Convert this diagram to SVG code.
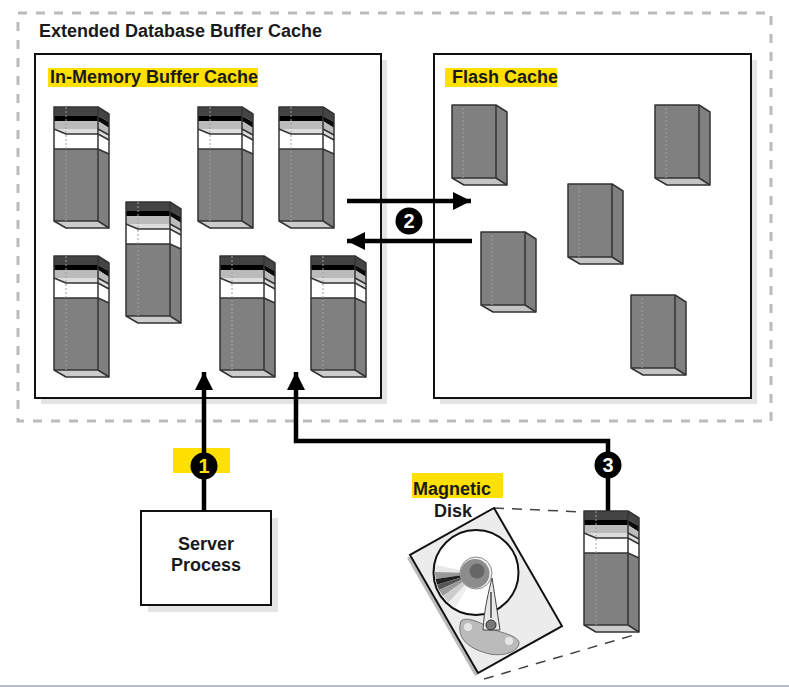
<svg xmlns="http://www.w3.org/2000/svg" width="789" height="687" viewBox="0 0 789 687">
<style>
text{font-family:"Liberation Sans",Arial,sans-serif;font-weight:bold;fill:#1a1a1a}
.lbl{font-size:18px}
.hl{fill:#ffe000}
.box{fill:#fff;stroke:#111;stroke-width:2}
.shadow{fill:#e4e4e4}
.num{font-size:20px;text-anchor:middle}
.conn{fill:none;stroke:#000;stroke-width:4.500}
.dash{fill:none;stroke:#444;stroke-width:1.500;stroke-dasharray:10 8}
.o{stroke:#333;stroke-width:1.500;stroke-linejoin:round;fill:none}
.dot{fill:none;stroke:#a0a0a0;stroke-width:1;stroke-dasharray:2 2}
</style>
<defs>
<marker id="ah" markerUnits="userSpaceOnUse" markerWidth="20" markerHeight="20" refX="18" refY="10" orient="auto">
<path d="M0 1L18 10L0 19Z" fill="#000"/>
</marker>
<g id="mem">
<path d="M44 0L55 7V121H12L0 114V0Z" fill="#fff"/>
<path d="M0 42H44L55 47V121H12L0 114Z" fill="#808080"/>
<path d="M0 114H44L55 121H12Z" fill="#ccc"/>
<path d="M0 0H44V9H0Z" fill="#444"/>
<path d="M44 0L55 7V15L44 9Z" fill="#444"/>
<path d="M0 9H44V14H0Z" fill="#000"/>
<path d="M44 9L55 15V21L44 14Z" fill="#0a0a0a"/>
<path d="M0 14H44V22H0Z" fill="#bbb"/>
<path d="M44 14L55 21V28L44 22Z" fill="#bbb"/>
<path d="M0 22H44V27H12Z" fill="#ddd"/>
<path d="M44 22L55 28V33L44 27Z" fill="#ddd"/>
<path class="o" d="M0 22L12 27H44L55 33M44 22L55 28"/>
<path class="o" d="M0 0H44L55 7V121H12L0 114Z"/>
<path class="o" d="M44 0V114M0 114H44L55 121"/>
<path class="o" d="M0 42H44L55 47"/>
<path class="dot" d="M12 0V114"/>
</g>
<g id="fl">
<path d="M0 0H44L55 7V80H12L0 73Z" fill="#808080"/>
<path d="M0 73H44L55 80H12Z" fill="#c4c4c4"/>
<path class="o" d="M0 0H44L55 7V80H12L0 73Z"/>
<path class="o" d="M44 0V73M0 73H44L55 80"/>
<path class="dot" d="M11 3V73"/>
</g>
</defs>
<rect width="789" height="687" fill="#fff"/>
<rect x="0" y="685" width="789" height="2" fill="#b4bcc6"/>
<g id="extended-cache">
<rect x="18" y="13" width="753" height="408" fill="none" stroke="#bbb" stroke-width="3" stroke-dasharray="9 9"/>
<text class="lbl" x="39" y="37">Extended Database Buffer Cache</text>
</g>
<g id="memory-cache">
<rect class="shadow" x="41" y="60" width="346" height="344"/>
<rect class="box" x="35" y="54" width="346" height="344"/>
<path class="hl" d="M48 68H258V87H48Z"/>
<text class="lbl" x="50" y="83">In-Memory Buffer Cache</text>
<use href="#mem" x="54" y="107"/>
<use href="#mem" x="198" y="107"/>
<use href="#mem" x="279" y="107"/>
<use href="#mem" x="126" y="202"/>
<use href="#mem" x="54" y="256"/>
<use href="#mem" x="220" y="256"/>
<use href="#mem" x="311" y="256"/>
</g>
<g id="flash-cache">
<rect class="shadow" x="440" y="60" width="317" height="344"/>
<rect class="box" x="434" y="54" width="317" height="344"/>
<path class="hl" d="M445 68H557V87H445Z"/>
<text class="lbl" x="452" y="83">Flash Cache</text>
<use href="#fl" x="452" y="105"/>
<use href="#fl" x="655" y="105"/>
<use href="#fl" x="568" y="184"/>
<use href="#fl" x="481" y="232"/>
<use href="#fl" x="631" y="295"/>
</g>
<g id="server-process">
<rect class="shadow" x="148" y="518" width="130" height="94"/>
<rect class="box" x="141" y="511" width="130" height="94"/>
<text class="lbl" x="206" y="550" text-anchor="middle">Server</text>
<text class="lbl" x="206" y="571" text-anchor="middle">Process</text>
</g>
<g id="connectors">
<path class="dash" d="M494 508L584 512M484 679L634 635"/>
<rect x="173" y="448" width="57" height="25" class="hl"/>
<path class="conn" d="M204 511V372" marker-end="url(#ah)"/>
<path class="conn" d="M608 511V441H296V372" marker-end="url(#ah)"/>
<path class="conn" d="M347 201H471" marker-end="url(#ah)"/>
<path class="conn" d="M472 241H347" marker-end="url(#ah)"/>
</g>
<g id="marker-1"><circle cx="204" cy="466" r="13.500"/><text class="num" x="204" y="473" style="fill:#ffe000">1</text></g>
<g id="marker-2"><circle cx="409" cy="221" r="13.500"/><text class="num" x="409" y="228" style="fill:#fff">2</text></g>
<g id="marker-3"><circle cx="608" cy="465" r="13.500"/><text class="num" x="608" y="472" style="fill:#fff">3</text></g>
<g id="magnetic-disk">
<path class="hl" d="M412 473H503V498H412Z"/>
<text class="lbl" x="413" y="495">Magnetic</text>
<text class="lbl" x="434" y="517">Disk</text>
<path d="M407 558L491 511L559 629L475 676Z" fill="#bbb"/>
<path d="M494 508L410 555L478 673L562 626Z" fill="#ececec" stroke="#111" stroke-width="2"/>
<circle cx="476" cy="572.500" r="42.500" fill="#fff" stroke="#111" stroke-width="2"/>
<path d="M476 573L435.600 564.900L435 572Z" fill="#e8e8e8"/>
<path d="M476 573L435 572L435.600 579.100Z" fill="#999"/>
<path d="M476 573L435.600 579.100L437 584.700Z" fill="#222"/>
<path d="M476 573L437 584.700L439.200 590Z" fill="#555"/>
<path d="M476 573L439.200 590L442.800 596.100Z" fill="#999"/>
<path d="M476 573L442.800 596.100L448.600 602.500Z" fill="#ccc"/>
<path d="M476 573L448.600 602.500L455.500 607.500Z" fill="#eee"/>
<circle cx="476" cy="573" r="16" fill="#f4f4f4" stroke="#888" stroke-width="1"/>
<circle cx="475" cy="573.500" r="14.500" fill="#8c8c8c"/>
<circle cx="477" cy="571" r="7.500" fill="#666"/>
<path d="M461 621C466 616 480 622 492 629C502 633 516 635 519 642C520 650 506 657 490 654C472 650 455 640 461 621Z" fill="#bbb" stroke="#777" stroke-width="1"/>
<circle cx="468" cy="627" r="4" fill="#e6e6e6"/>
<circle cx="509" cy="641" r="4" fill="#e6e6e6"/>
<path d="M492 578C494 590 497 610 500 630L483 630C484 610 489 590 492 578Z" fill="#e8e8e8" stroke="#444" stroke-width="1"/>
<path d="M491 592V618" fill="none" stroke="#444" stroke-width="1.500"/>
<circle cx="491" cy="625" r="5" fill="#777" stroke="#333" stroke-width="1"/>
</g>
<g id="disk-stack"><use href="#mem" x="584" y="511"/></g>
</svg>
